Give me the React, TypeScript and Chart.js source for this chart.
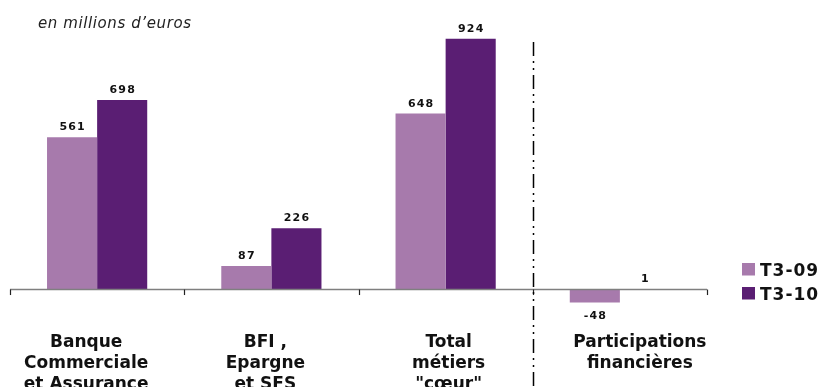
import React, { useEffect, useRef } from "react";
import { Chart, registerables } from "chart.js";

Chart.register(...registerables);

const categories: string[][] = [
  ["Banque", "Commerciale", "et Assurance"],
  ["BFI ,", "Epargne", "et SFS"],
  ["Total", "métiers", "\"cœur\""],
  ["Participations", "financières"],
];
const seriesNames = ["T3-09", "T3-10"];
const valuesT309 = [561, 87, 648, -48];
const valuesT310 = [698, 226, 924, 1];
const subtitle = "en millions d’euros";

const COLORS = ["#A77AAC", "#5A1E73"];
const FONT = "'DejaVu Sans', Verdana, sans-serif";
const LABEL_SHIFT = [-11, -6, 3, 20];

function setSpacing(ctx: any, px: number) {
  if ("letterSpacing" in ctx) ctx.letterSpacing = px + "px";
}

const overlayPlugin = {
  id: "overlay",
  afterDatasetsDraw(chart: any) {
    const ctx = chart.ctx as CanvasRenderingContext2D;
    const x = chart.scales.x;
    const y = chart.scales.y;
    const y0 = y.getPixelForValue(0);
    const n = chart.data.labels.length;
    const catW = (x.right - x.left) / n;
    ctx.save();

    // axis line
    ctx.strokeStyle = "#7f7f7f";
    ctx.lineWidth = 1.5;
    ctx.beginPath();
    ctx.moveTo(x.left, y0);
    ctx.lineTo(x.right, y0);
    ctx.stroke();
    // tick marks
    ctx.strokeStyle = "#222";
    ctx.lineWidth = 1.2;
    for (let i = 0; i <= n; i++) {
      const px = Math.round(x.getPixelForValue(0) - catW / 2 + i * catW) + 0.5;
      ctx.beginPath();
      ctx.moveTo(px, y0);
      ctx.lineTo(px, y0 + 5.5);
      ctx.stroke();
    }

    // value labels
    ctx.fillStyle = "#111";
    ctx.font = `bold 11px ${FONT}`;
    setSpacing(ctx, 1.2);
    ctx.textAlign = "center";
    ctx.textBaseline = "alphabetic";
    chart.data.datasets.forEach((ds: any, di: number) => {
      const meta = chart.getDatasetMeta(di);
      meta.data.forEach((bar: any, i: number) => {
        const v = ds.data[i];
        const txt = String(v);
        if (v >= 0) {
          ctx.fillText(txt, bar.x + 0.6, bar.y - 7);
        } else {
          ctx.fillText(txt, bar.x + 0.6, bar.y + 16);
        }
      });
    });
    setSpacing(ctx, 0);

    // category labels
    ctx.font = `bold 17px ${FONT}`;
    ctx.fillStyle = "#111";
    (chart.data.labels as string[][]).forEach((lines, i) => {
      const cx = x.getPixelForValue(i) + LABEL_SHIFT[i];
      lines.forEach((ln, li) => {
        ctx.fillText(ln, cx, 347 + li * 21);
      });
    });

    // divider between core businesses and participations
    const dx = Math.round((x.getPixelForValue(2) + x.getPixelForValue(3)) / 2) + 0.5;
    ctx.strokeStyle = "#000";
    ctx.lineWidth = 1.5;
    ctx.setLineDash([14, 5, 2, 5, 2, 5]);
    ctx.beginPath();
    ctx.moveTo(dx, 42);
    ctx.lineTo(dx, chart.height);
    ctx.stroke();
    ctx.setLineDash([]);

    // subtitle
    ctx.textAlign = "left";
    ctx.font = `italic 15px ${FONT}`;
    setSpacing(ctx, 0.6);
    ctx.fillStyle = "#222";
    ctx.fillText(subtitle, 38, 28);

    // legend
    ctx.font = `bold 17px ${FONT}`;
    setSpacing(ctx, 1);
    chart.data.datasets.forEach((ds: any, di: number) => {
      const top = 263 + di * 24;
      ctx.fillStyle = ds.backgroundColor;
      ctx.fillRect(742, top, 13, 12.5);
      ctx.fillStyle = "#111";
      ctx.fillText(ds.label, 760, top + 13);
    });
    setSpacing(ctx, 0);

    ctx.restore();
  },
};

export default function App() {
  const ref = useRef<HTMLCanvasElement | null>(null);
  useEffect(() => {
    if (!ref.current) return;
    const chart = new Chart(ref.current, {
      type: "bar",
      data: {
        labels: categories as any,
        datasets: [
          {
            label: seriesNames[0],
            data: valuesT309,
            backgroundColor: COLORS[0],
            borderWidth: 0,
            categoryPercentage: 0.575,
            barPercentage: 1,
          },
          {
            label: seriesNames[1],
            data: valuesT310,
            backgroundColor: COLORS[1],
            borderWidth: 0,
            categoryPercentage: 0.575,
            barPercentage: 1,
          },
        ],
      },
      options: {
        animation: false,
        responsive: false,
        maintainAspectRatio: false,
        devicePixelRatio: 1,
        layout: { padding: { left: 10, right: 115, top: 18, bottom: 16 } },
        plugins: {
          legend: { display: false },
          tooltip: { enabled: false },
          title: { display: false },
        },
        scales: {
          x: { display: false },
          y: { display: false, min: -300, max: 1000 },
        },
      },
      plugins: [overlayPlugin],
    });
    return () => chart.destroy();
  }, []);
  return (
    <div style={{ position: "fixed", left: 0, top: 0, width: 822, height: 387, background: "#fff" }}>
      <canvas ref={ref} width={822} height={387} style={{ width: 822, height: 387, display: "block" }} />
    </div>
  );
}
